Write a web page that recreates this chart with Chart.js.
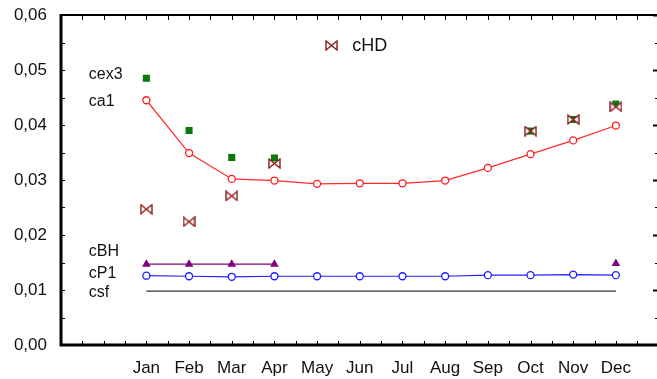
<!DOCTYPE html>
<html>
<head>
<meta charset="utf-8">
<script src="https://cdn.jsdelivr.net/npm/chart.js@4/dist/chart.umd.min.js"></script>
<style>
  html, body { margin: 0; padding: 0; background: #fff; overflow: hidden; }
  #wrap { width: 657px; height: 379px; }
</style>
</head>
<body>
<div id="wrap"><canvas id="chart" width="657" height="379"></canvas></div>
<script>
// DONNÉES
const months = ['Jan', 'Feb', 'Mar', 'Apr', 'May', 'Jun', 'Jul', 'Aug', 'Sep', 'Oct', 'Nov', 'Dec'];
const ca1  = [0.0445, 0.0349, 0.0302, 0.0299, 0.0293, 0.0294, 0.0294, 0.0299, 0.0322, 0.0347, 0.0372, 0.0399];
const cex3 = [0.0485, 0.0390, 0.0341, 0.0340, null, null, null, null, null, 0.0389, 0.0410, 0.0438];
const cHD  = [0.0247, 0.0224, 0.0271, 0.0330, null, null, null, null, null, 0.0389, 0.0410, 0.0433];
const cBH  = [0.0147, 0.0147, 0.0147, 0.0147, null, null, null, null, null, null, null, 0.0148];
const cP1  = [0.0126, 0.0125, 0.0124, 0.0125, 0.0125, 0.0125, 0.0125, 0.0125, 0.0127, 0.0127, 0.0128, 0.0127];
const csf  = [0.0098, 0.0098, 0.0098, 0.0098, 0.0098, 0.0098, 0.0098, 0.0098, 0.0098, 0.0098, 0.0098, 0.0098];
const yTicks = [0, 0.01, 0.02, 0.03, 0.04, 0.05, 0.06];

// libellés posés à gauche des courbes (x en mois, y en valeur)
const seriesNames = ['cex3', 'ca1', 'cBH', 'cP1', 'csf'];
const seriesNameY = [0.0491, 0.0442, 0.0169, 0.0129, 0.0096];

const FONT = '"Liberation Sans", Arial, sans-serif';

function pts(arr) {
    return arr.map((v, i) => ({ x: i, y: v }));
}

// marqueur "nœud papillon" pour cHD
function bowtie(w, h) {
    const c = document.createElement('canvas');
    c.width = w; c.height = h;
    const g = c.getContext('2d');
    g.beginPath();
    g.moveTo(1, 1);
    g.lineTo(1, h - 1);
    g.lineTo(w - 1, 1);
    g.lineTo(w - 1, h - 1);
    g.closePath();
    g.fillStyle = '#fff';
    g.fill();
    g.strokeStyle = '#8b1c1c';
    g.lineWidth = 1.4;
    g.stroke();
    return c;
}
const hdMark = bowtie(13, 11);

// CADRE, GRADUATIONS ET TEXTES
const framePlugin = {
    id: 'frame',
    afterDraw(chart) {
        const { ctx, chartArea: a, scales } = chart;
        const x = scales.x, y = scales.y;
        ctx.save();
        ctx.strokeStyle = '#000';

        // graduations haut/bas tous les demi-mois
        ctx.lineWidth = 1;
        for (let m = -1.5; m < 12; m += 0.5) {
            const px = Math.round(x.getPixelForValue(m)) + 0.5;
            if (px > a.right - 2) continue;
            ctx.beginPath();
            ctx.moveTo(px, a.top); ctx.lineTo(px, a.top + 5);
            ctx.moveTo(px, a.bottom); ctx.lineTo(px, a.bottom - 4);
            ctx.stroke();
        }
        // graduations gauche/droite
        for (let v = 0.005; v < 0.06; v += 0.005) {
            const py = Math.round(y.getPixelForValue(v)) + 0.5;
            const major = Math.abs(v * 100 - Math.round(v * 100)) < 1e-6;
            ctx.lineWidth = 1;
            ctx.beginPath();
            ctx.moveTo(a.left, py); ctx.lineTo(a.left + 4, py);
            ctx.stroke();
            ctx.lineWidth = major ? 2 : 1;
            ctx.beginPath();
            ctx.moveTo(a.right + 1, py); ctx.lineTo(a.right + 1 - (major ? 4 : 2), py);
            ctx.stroke();
        }

        // axes
        ctx.lineWidth = 2;
        ctx.beginPath();
        ctx.moveTo(a.left, a.top); ctx.lineTo(a.right + 2, a.top);
        ctx.stroke();
        ctx.lineWidth = 3;
        ctx.beginPath();
        ctx.moveTo(a.left, a.top - 1); ctx.lineTo(a.left, a.bottom);
        ctx.lineTo(a.right + 2, a.bottom);
        ctx.stroke();

        // noms des séries
        ctx.fillStyle = '#111';
        ctx.font = '16px ' + FONT;
        ctx.textBaseline = 'middle';
        ctx.textAlign = 'left';
        seriesNames.forEach((n, i) => {
            ctx.fillText(n, x.getPixelForValue(-1.35), y.getPixelForValue(seriesNameY[i]));
        });

        // légende cHD
        const lx = x.getPixelForValue(4.33), ly = y.getPixelForValue(0.0545);
        ctx.drawImage(hdMark, Math.round(lx - 6), Math.round(ly - 5));
        ctx.font = '18px ' + FONT;
        ctx.fillText('cHD', lx + 21, ly + 1);
        ctx.restore();
    }
};

const ctx = document.getElementById('chart').getContext('2d');
new Chart(ctx, {
    type: 'line',
    data: {
        datasets: [
            {
                label: 'cHD', data: pts(cHD), showLine: false,
                pointStyle: hdMark, pointRadius: 6
            },
            {
                label: 'cex3', data: pts(cex3), showLine: false,
                pointStyle: 'rect', pointRadius: 5,
                pointBackgroundColor: '#0a780a', pointBorderColor: '#0a780a', pointBorderWidth: 0
            },
            {
                label: 'ca1', data: pts(ca1),
                borderColor: '#ff2a2a', borderWidth: 1.2, tension: 0,
                pointStyle: 'circle', pointRadius: 3.5,
                pointBackgroundColor: '#fff', pointBorderColor: '#ff1a1a', pointBorderWidth: 1.3
            },
            {
                label: 'cBH', data: pts(cBH), spanGaps: false,
                borderColor: '#800080', borderWidth: 1.2, tension: 0,
                pointStyle: 'triangle', pointRadius: 5,
                pointBackgroundColor: '#800080', pointBorderColor: '#800080', pointBorderWidth: 0
            },
            {
                label: 'cP1', data: pts(cP1),
                borderColor: '#2222ff', borderWidth: 1.2, tension: 0,
                pointStyle: 'circle', pointRadius: 3.5,
                pointBackgroundColor: '#fff', pointBorderColor: '#1a1aff', pointBorderWidth: 1.3
            },
            {
                label: 'csf', data: pts(csf),
                borderColor: '#000', borderWidth: 1, tension: 0, pointRadius: 0
            }
        ]
    },
    options: {
        responsive: false,
        animation: false,
        devicePixelRatio: 1,
        layout: { autoPadding: false, padding: { top: 15, right: 1, left: 0, bottom: 0 } },
        plugins: { legend: { display: false }, tooltip: { enabled: false } },
        scales: {
            x: {
                type: 'linear', min: -2, max: 11.94,
                grid: { display: false, drawTicks: false },
                border: { display: false },
                afterBuildTicks: s => { s.ticks = months.map((m, i) => ({ value: i })); },
                afterFit: s => { s.height = 34; s.paddingLeft = 0; s.paddingRight = 0; },
                ticks: {
                    autoSkip: false, maxRotation: 0, padding: 13,
                    color: '#111', font: { family: FONT, size: 17 },
                    callback: v => months[v]
                }
            },
            y: {
                min: 0, max: 0.06,
                grid: { display: false, drawTicks: false },
                border: { display: false },
                afterBuildTicks: s => { s.ticks = yTicks.map(v => ({ value: v })); },
                afterFit: s => { s.width = 61; s.paddingTop = 0; s.paddingBottom = 0; },
                ticks: {
                    padding: 14,
                    color: '#111', font: { family: FONT, size: 17 },
                    callback: v => v.toFixed(2).replace('.', ',')
                }
            }
        }
    },
    plugins: [framePlugin]
});
</script>
</body>
</html>
